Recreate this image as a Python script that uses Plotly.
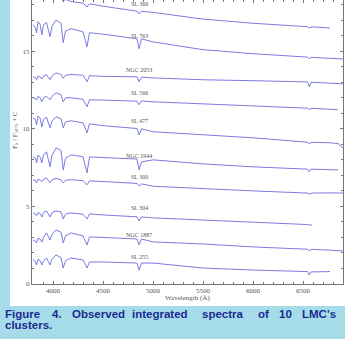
import plotly.graph_objects as go

# ---------------- data ----------------
wavelength = [3800, 3825, 3835, 3850, 3870, 3889, 3905, 3935, 3970, 3990, 4030, 4080,
              4102, 4125, 4180, 4300, 4340, 4365, 4500, 4700, 4840, 4861, 4885, 5000,
              5500, 6000, 6500, 6545, 6563, 6580, 6590, 6770, 6850, 6900]

N = None
cluster_names = ["SL 360", "SL 763", "NGC 2053", "SL 566", "SL 477",
                 "NGC 1944", "SL 300", "SL 304", "NGC 1887", "SL 255"]

sl360 = [19.2, 19.1, 18.7, 19.1, 19.0, 18.6, 19.0, 19.0, 18.5, 18.8, 18.8, 18.6,
         18.2, 18.35, 18.2, 18.1, 17.85, 18.05, 17.9, 17.7, 17.58, 17.4, 17.57, 17.5,
         17.07, 16.8, 16.6, 16.58, 16.5, 16.57, 16.57, 16.5, N, N]
sl763 = [16.7, 16.5, 16.19, 16.9, 16.75, 16.06, 16.7, 16.85, 15.94, 16.6, 17.0, 16.8,
         15.55, 16.3, 16.45, 16.25, 15.29, 16.19, 16.1, 15.9, 15.8, 15.16, 15.8, 15.6,
         15.1, 14.84, 14.65, 14.62, 14.5, 14.61, 14.6, 14.56, 14.53, 14.5]
ngc2053 = [13.35, 13.3, 13.16, 13.4, 13.35, 13.2, 13.4, 13.48, 13.16, 13.4, 13.6, 13.5,
           13.25, 13.45, 13.5, 13.45, 13.03, 13.42, 13.38, 13.38, 13.35, 13.03, 13.33, 13.28,
           13.16, 13.1, 13.03, 13.02, 12.71, 13.0, 13.0, 12.95, 12.92, 12.9]
sl566 = [12.0, 11.95, 11.85, 12.1, 12.0, 11.74, 12.0, 12.1, 11.87, 12.1, 12.32, 12.2,
         11.74, 12.0, 12.0, 11.9, 11.42, 11.87, 11.85, 11.8, 11.78, 11.55, 11.8, 11.74,
         11.61, 11.48, 11.35, 11.33, 11.25, 11.32, 11.32, 11.26, 11.23, N]
sl477 = [10.7, 10.6, 10.26, 10.83, 10.7, 10.13, 10.6, 10.75, 10.06, 10.5, 10.77, 10.65,
         10.06, 10.45, 10.52, 10.38, 9.74, 10.32, 10.2, 10.08, 10.02, 9.61, 10.0, 9.81,
         9.61, 9.42, 9.16, 9.14, 9.05, 9.13, 9.13, 9.1, 9.05, 8.77]
ngc1944 = [8.19, 8.1, 7.8, 8.3, 8.2, 7.8, 8.3, 8.52, 7.55, 8.3, 8.77, 8.6,
           7.35, 8.1, 8.32, 8.2, 7.16, 8.19, 8.15, 8.1, 8.05, 7.35, 7.87, 8.0,
           7.74, 7.55, 7.42, 7.4, 7.23, 7.4, 7.4, 7.37, 7.35, N]
sl300 = [6.71, 6.65, 6.52, 6.75, 6.7, 6.6, 6.75, 6.84, 6.52, 6.72, 6.8, 6.72,
         6.52, 6.68, 6.72, 6.66, 6.39, 6.65, 6.6, 6.52, 6.48, 6.32, 6.45, 6.3,
         6.13, 6.0, 5.87, 5.86, 5.8, 5.86, 5.86, 5.87, 5.87, 5.86]
sl304 = [4.58, 4.5, 4.4, 4.6, 4.55, 4.32, 4.6, 4.71, 4.32, 4.6, 4.71, 4.65,
         4.19, 4.5, 4.58, 4.5, 4.19, 4.52, 4.45, 4.38, 4.33, 4.06, 4.32, 4.26,
         4.13, 4.0, 3.85, 3.83, 3.8, 3.81, 3.81, N, N, N]
ngc1887 = [2.84, 2.75, 2.65, 2.95, 2.9, 2.7, 3.0, 3.29, 2.84, 3.2, 3.48, 3.35,
           2.65, 3.1, 3.29, 3.1, 2.52, 3.03, 3.0, 2.93, 2.9, 2.52, 2.9, 2.71,
           2.58, 2.39, 2.26, 2.24, 2.15, 2.23, 2.23, 2.18, 2.15, 2.13]
sl255 = [1.55, 1.45, 1.23, 1.6, 1.5, 1.23, 1.5, 1.68, 1.23, 1.6, 1.87, 1.7,
         1.03, 1.5, 1.68, 1.55, 1.03, 1.42, 1.42, 1.38, 1.35, 0.9, 1.35, 1.35,
         1.03, 0.9, 0.84, 0.8, 0.58, 0.78, 0.78, 0.8, N, N]

spectra = [sl360, sl763, ngc2053, sl566, sl477, ngc1944, sl300, sl304, ngc1887, sl255]
label_wavelength = 4860
label_y = [18.05, 15.97, 13.82, 12.3, 10.48, 8.25, 6.88, 4.88, 3.14, 1.72]

x_tick_vals = [4000, 4500, 5000, 5500, 6000, 6500]
y_tick_vals = [0, 5, 10, 15]

caption_line1 = ["Figure", "4.", "Observed", "integrated", "spectra", "of", "10", "LMC's"]
caption_line2 = "clusters."

# ---------------- figure ----------------
W, H = 345, 339
ml, mr, mt, mb = 32, 2, 0, 55
pw, ph = W - ml - mr, H - mt - mb
BG = "#a6dcea"

def px_x(p):
    return (p - ml) / pw

def px_y(p):
    return (H - mb - p) / ph

fig = go.Figure()

line_color = "#6b6be0"
for s in spectra:
    fig.add_trace(go.Scatter(x=wavelength, y=s, mode="lines",
                             line=dict(color=line_color, width=0.9),
                             connectgaps=False, hoverinfo="skip", showlegend=False))

serif = "Liberation Serif, Times New Roman, serif"
for name, ly in zip(cluster_names, label_y):
    fig.add_annotation(x=label_wavelength, y=ly, text=name, showarrow=False,
                       font=dict(family=serif, size=6, color="#555555"),
                       xanchor="center", yanchor="middle")

# white panel behind the plot
fig.add_shape(type="rect", xref="paper", yref="paper",
              x0=px_x(10), x1=px_x(346), y0=px_y(306), y1=px_y(-2),
              fillcolor="white", line=dict(width=0), layer="below")

# axis titles
fig.add_annotation(xref="paper", yref="paper", x=0.5, y=px_y(298),
                   text="Wavelength (Å)", showarrow=False,
                   font=dict(family=serif, size=7, color="#555555"),
                   xanchor="center", yanchor="middle")
fig.add_annotation(xref="paper", yref="paper", x=px_x(15), y=px_y(130),
                   text="F<sub>λ</sub> / F<sub>5870</sub> + C", showarrow=False, textangle=-90,
                   font=dict(family=serif, size=7, color="#555555"),
                   xanchor="center", yanchor="middle")

# caption (justified by word placement)
cap_font = dict(family="Liberation Sans, Arial, sans-serif", size=11.5, color="#1b2a8f")
word_left_px = [4, 51, 71, 131, 201, 257, 278, 301]
for w, lx in zip(caption_line1, word_left_px):
    fig.add_annotation(xref="paper", yref="paper", x=px_x(lx), y=px_y(314),
                       text="<b>%s</b>" % w, showarrow=False, font=cap_font,
                       xanchor="left", yanchor="middle", borderpad=0)
fig.add_annotation(xref="paper", yref="paper", x=px_x(4), y=px_y(325),
                   text="<b>%s</b>" % caption_line2, showarrow=False, font=cap_font,
                   xanchor="left", yanchor="middle", borderpad=0)

axis_common = dict(showline=True, linecolor="#777777", linewidth=1, mirror="ticks",
                   ticks="inside", ticklen=3, tickcolor="#777777", showgrid=False,
                   zeroline=False,
                   tickfont=dict(family=serif, size=7, color="#555555"))

fig.update_xaxes(range=[3790, 6900], tickvals=x_tick_vals,
                 minor=dict(dtick=100, ticks="inside", ticklen=2, tickcolor="#777777"),
                 **axis_common)
fig.update_yaxes(range=[0, 18.3], tickvals=y_tick_vals,
                 minor=dict(dtick=1, ticks="inside", ticklen=2, tickcolor="#777777"),
                 **axis_common)

fig.update_layout(width=W, height=H, margin=dict(l=ml, r=mr, t=mt, b=mb),
                  paper_bgcolor=BG, plot_bgcolor="white")

fig.write_html("out.html", config={"displayModeBar": False},
               post_script="document.body.style.margin='0';"
                           "document.body.style.background='" + BG + "';"
                           "document.body.style.overflow='hidden';")
